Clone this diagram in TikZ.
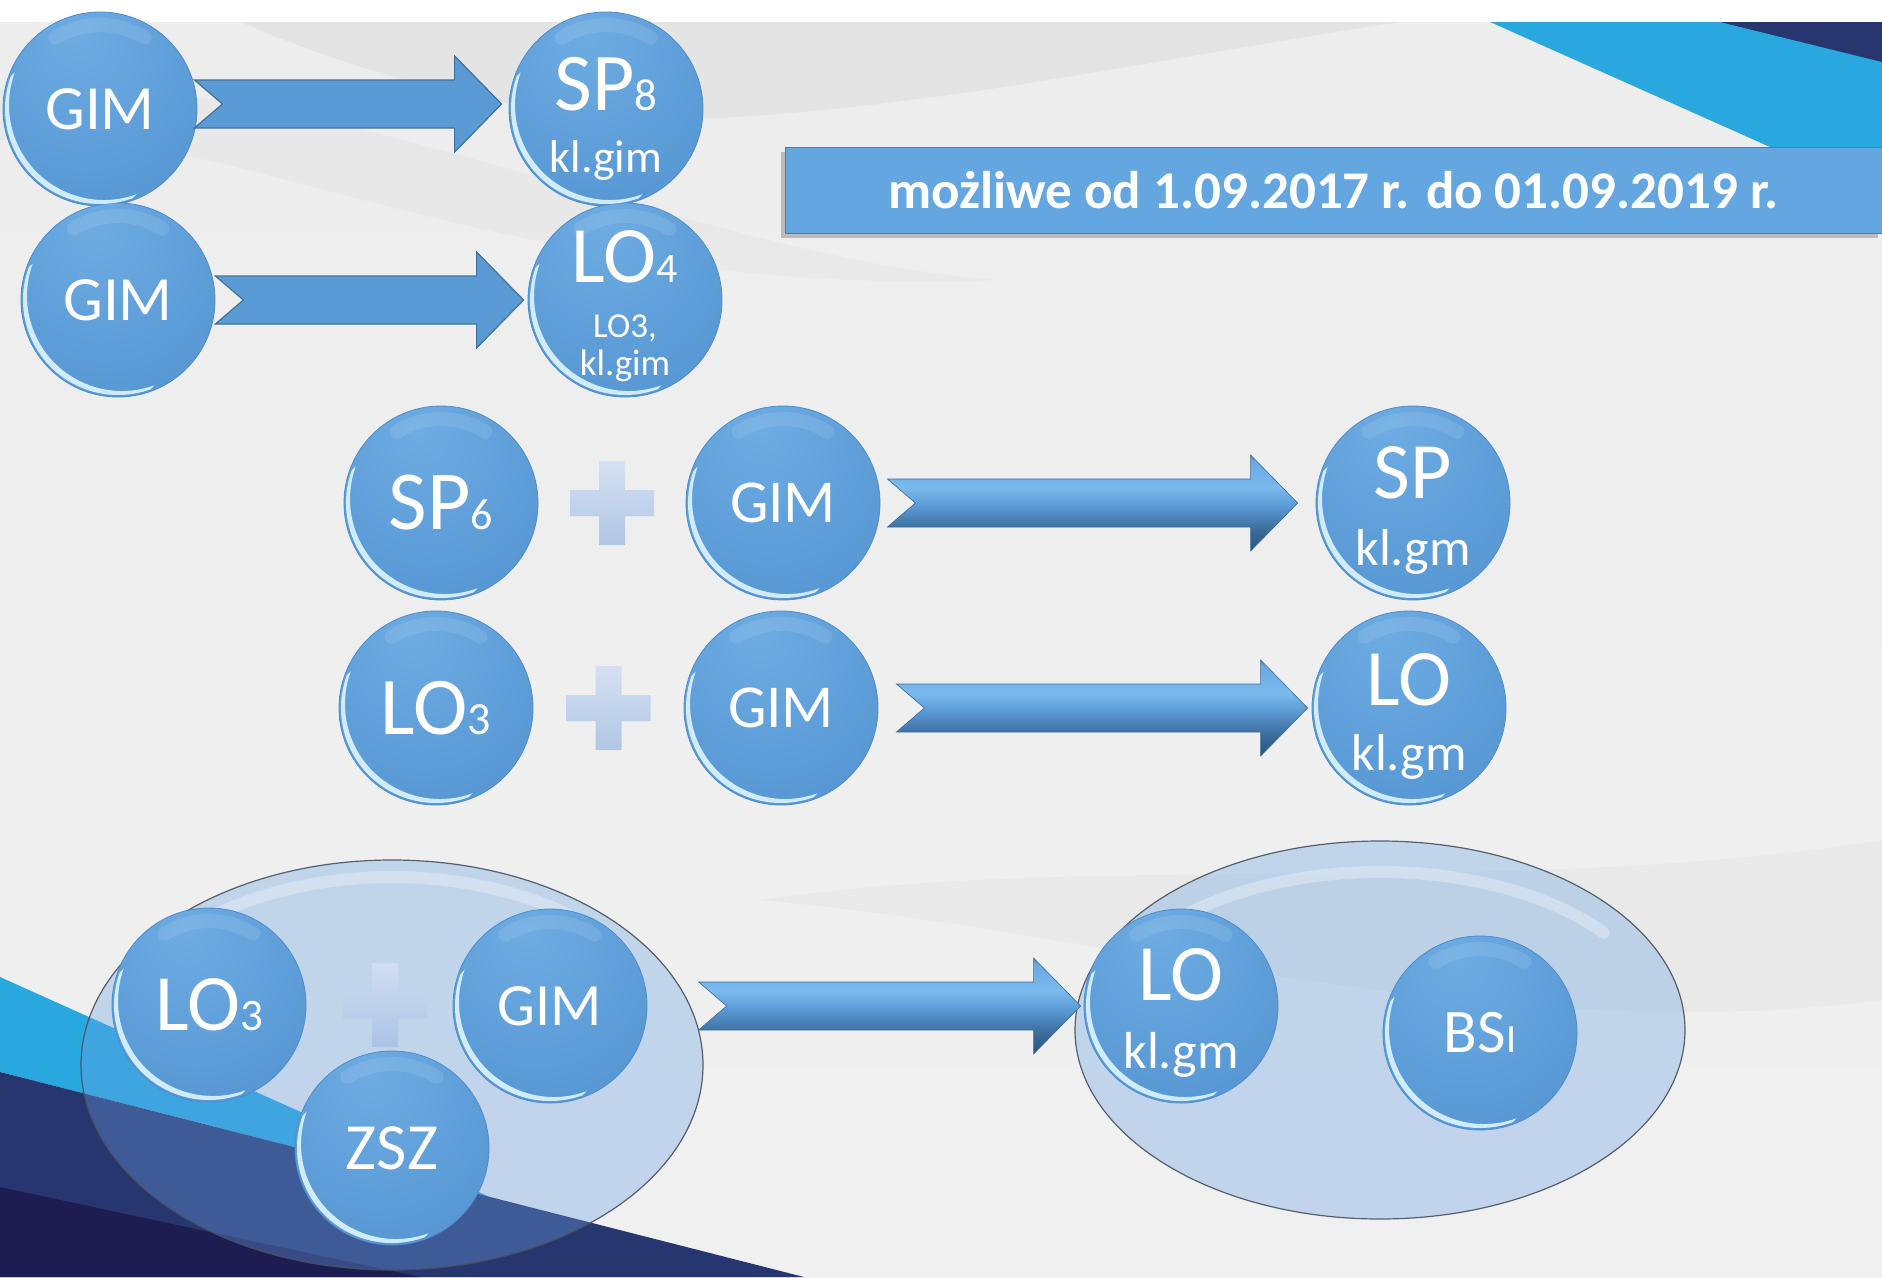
\documentclass[tikz,border=0pt]{standalone}
\usepackage{fontspec}
\setmainfont{Carlito}
\usetikzlibrary{calc, shadows, shapes.geometric, positioning}

\definecolor{bubLight}{HTML}{6EACE3}
\definecolor{bubMid}{HTML}{5B9BD6}
\definecolor{bubDark}{HTML}{4A89CA}
\definecolor{bubEdge}{HTML}{4F8CCB}
\definecolor{rimCol}{HTML}{DDF5FF}
\definecolor{arrFill}{HTML}{5B9BD5}
\definecolor{arrLine}{HTML}{41719C}
\definecolor{boxFill}{HTML}{64A6E0}
\definecolor{boxLine}{HTML}{5479A0}
\definecolor{skyBand}{HTML}{29A8E0}
\definecolor{navyBand}{HTML}{283670}
\definecolor{navyDeep}{HTML}{1E1D52}
\definecolor{plusLight}{HTML}{D3E0F3}
\definecolor{plusDark}{HTML}{A9C2E5}
\definecolor{grpFill}{HTML}{6AA2E2}
\definecolor{grpLine}{HTML}{47525E}
\definecolor{bgTop}{HTML}{EDEDED}
\definecolor{bgMid}{HTML}{F7F7F7}
\definecolor{bgBot}{HTML}{F0F0F0}
\definecolor{bevLow}{HTML}{3A6A98}
\definecolor{bevDark}{HTML}{2A547E}
\definecolor{bevDarkB}{HTML}{3B6C9D}
\definecolor{bevMid}{HTML}{5A99D4}
\definecolor{bevLight}{HTML}{7ABAEE}
\definecolor{bevLightB}{HTML}{6AA9E2}
\definecolor{bevTop}{HTML}{4B7FB3}
\definecolor{bevHead}{HTML}{66A3DB}
\definecolor{bevEdge}{HTML}{3C6A96}

\pgfdeclareradialshading{bubble}{\pgfpoint{-6bp}{20bp}}{color(0bp)=(bubLight); color(30bp)=(bubMid); color(60bp)=(bubDark); color(80bp)=(bubDark)}
\pgfdeclareverticalshading{bevel}{100bp}{color(0bp)=(bevLow); color(25bp)=(bevDark); color(36bp)=(bevDarkB); color(48bp)=(bevMid); color(58bp)=(bevLight); color(72bp)=(bevLightB); color(75bp)=(bevTop); color(77bp)=(bevMid); color(100bp)=(bevHead)}

\newcommand{\sz}[1]{\fontsize{#1pt}{#1pt}\selectfont}

% notched block arrow between two coordinates on one level
\newcommand{\blockarrow}[3][]{%
  \path[#1] ($(#2)+(0,-24)$) -- ($(#3)+(-47,-24)$) -- ($(#3)+(-47,-48)$) -- (#3)
    -- ($(#3)+(-47,48)$) -- ($(#3)+(-47,24)$) -- ($(#2)+(0,24)$) -- ($(#2)+(28,0)$) -- cycle;}

\newcommand{\plusmark}[1]{%
  \path[plussign] ($(#1)+(-13,-42)$) -- ($(#1)+(13,-42)$) -- ($(#1)+(13,-13)$) -- ($(#1)+(42,-13)$)
    -- ($(#1)+(42,13)$) -- ($(#1)+(13,13)$) -- ($(#1)+(13,42)$) -- ($(#1)+(-13,42)$)
    -- ($(#1)+(-13,13)$) -- ($(#1)+(-42,13)$) -- ($(#1)+(-42,-13)$) -- ($(#1)+(-13,-13)$) -- cycle;}

% top sheen and bright crescent on the lower left of a ball
\newcommand{\glossy}[1]{%
  \draw[glow] ([shift={(58:84pt)}]#1.center) arc[start angle=58, end angle=122, radius=84pt];
  \coordinate (#1-in) at ([shift={(4pt,4pt)}]#1.center);
  \fill[rim] ([shift={(160:95pt)}]#1.center) arc[start angle=160, end angle=290, radius=95pt]
    -- ([shift={(290:95pt)}]#1-in) arc[start angle=290, end angle=160, radius=95pt] -- cycle;}

\tikzset{
  ball/.style = {circle, minimum size=194pt, inner sep=0pt, shading=bubble,
                 draw=bubEdge, line width=0.8pt, text=white},
  txt/.style = {anchor=base, inner sep=0pt, text=white},
  rim/.style = {fill=rimCol, opacity=0.9},
  glow/.style = {draw=white, line width=14pt, line cap=round, opacity=0.1},
  flatarrow/.style = {fill=arrFill, draw=arrLine, line width=1.2pt},
  bevelarrow/.style = {shade, shading=bevel, draw=bevEdge, line width=0.6pt},
  plussign/.style = {shade, top color=plusLight, bottom color=plusDark, opacity=0.9},
  group/.style = {ellipse, fill=grpFill, fill opacity=0.35, draw=grpLine,
                  draw opacity=0.9, line width=1.2pt},
  sheen/.style = {draw=white, line width=12pt, line cap=round, opacity=0.3},
  swoosh/.style = {fill=black, fill opacity=0.035},
  datebox/.style = {rectangle, fill=boxFill, draw=boxLine, line width=1pt,
                    minimum width=1097pt, minimum height=86pt, text=white,
                    font=\bfseries\sz{53},
                    drop shadow={shadow xshift=-4pt, shadow yshift=-5pt, opacity=0.45}}
}

\begin{document}
\begin{tikzpicture}[x=1pt, y=-1pt]
\useasboundingbox (0,0) rectangle (1882,1277);

% background
\fill[white] (0,0) rectangle (1882,1277);
\shade[top color=bgTop, middle color=bgMid, bottom color=bgBot] (0,22) rectangle (1882,1277);
\fill[swoosh] (240,22) .. controls (400,90) and (560,125) .. (720,118)
  .. controls (950,105) and (1150,60) .. (1400,22) -- cycle;
\fill[swoosh, fill opacity=0.02] (0,140) .. controls (200,110) and (500,300) .. (1000,280)
  .. controls (700,260) and (300,60) .. (0,90) -- cycle;
\fill[swoosh, fill opacity=0.025] (760,900) .. controls (1100,850) and (1500,900) .. (1882,840)
  -- (1882,1000) .. controls (1500,1050) and (1100,930) .. (760,900) -- cycle;
\fill[skyBand] (1490,22) -- (1882,22) -- (1882,197) -- cycle;
\fill[navyBand] (1720,22) -- (1882,22) -- (1882,62) -- cycle;
\fill[skyBand] (0,977) -- (490,1197) -- (0,1072) -- cycle;
\fill[navyBand] (0,1072) -- (804,1277) -- (0,1277) -- cycle;
\fill[navyDeep] (0,1187) -- (420,1277) -- (0,1277) -- cycle;

\node[datebox] (okres) at (1333.5,190) {możliwe od 1.09.2017 r. do 01.09.2019 r.};

% GIM -> SP8, GIM -> LO4
\node[ball, font=\sz{63}] (gimA) at (100,109) {GIM};
\node[ball] (sp8) at (606,109) {};
\node[txt, font=\sz{82}] (sp8-top) at ([yshift=-1pt]sp8.center) {SP{\sz{45}8}};
\node[txt, font=\sz{46}] (sp8-bot) at ([yshift=-63pt]sp8.center) {kl.gim};
\node[ball, font=\sz{63}] (gimB) at (118,300) {GIM};
\node[ball] (lo4) at (625,300) {};
\node[txt, font=\sz{80}] (lo4-top) at ([yshift=18pt]lo4.center) {LO{\sz{42}4}};
\node[txt, font=\sz{35}] (lo4-mid) at ([yshift=-37pt]lo4.center) {LO3,};
\node[txt, font=\sz{37}] (lo4-bot) at ([yshift=-75pt]lo4.center) {kl.gim};

\coordinate (arA-s) at ([xshift=-3pt, yshift=5pt]gimA.east);
\coordinate (arA-e) at ([xshift=-7pt, yshift=5pt]sp8.west);
\coordinate (arB-s) at (gimB.east);
\coordinate (arB-e) at ([xshift=-4pt]lo4.west);
\blockarrow[flatarrow]{arA-s}{arA-e}
\blockarrow[flatarrow]{arB-s}{arB-e}

% SP6 + GIM -> SP, LO3 + GIM -> LO
\node[ball, font=\sz{84}] (sp6) at (441,503) {SP{\sz{44}6}};
\node[ball, font=\sz{61}] (gimC) at (783,503) {GIM};
\node[ball] (spgm) at (1413,503) {};
\node[txt, font=\sz{80}] (spgm-top) at ([yshift=5pt]spgm.center) {SP};
\node[txt, font=\sz{52}] (spgm-bot) at ([yshift=-62pt]spgm.center) {kl.gm};
\node[ball, font=\sz{82}] (lo3) at (436,708) {LO{\sz{46}3}};
\node[ball, font=\sz{61}] (gimD) at (781,708) {GIM};
\node[ball] (logm) at (1409,708) {};
\node[txt, font=\sz{80}] (logm-top) at ([yshift=3pt]logm.center) {LO};
\node[txt, font=\sz{52}] (logm-bot) at ([yshift=-62pt]logm.center) {kl.gm};

\coordinate (plusA) at ($(sp6)!0.5!(gimC)$);
\coordinate (plusB) at ($(lo3)!0.5!(gimD)$);
\plusmark{plusA}
\plusmark{plusB}

\coordinate (arC-s) at ([xshift=7pt]gimC.east);
\coordinate (arC-e) at ([xshift=-18pt]spgm.west);
\coordinate (arD-s) at ([xshift=18pt]gimD.east);
\coordinate (arD-e) at ([xshift=-4pt]logm.west);
\blockarrow[bevelarrow]{arC-s}{arC-e}
\blockarrow[bevelarrow]{arD-s}{arD-e}

% LO3 + GIM + ZSZ -> LO + BSI
\node[group, minimum width=622pt, minimum height=410pt] (grpL) at (392,1065) {};
\node[group, minimum width=610pt, minimum height=378pt] (grpR) at (1380,1030) {};
\draw[sheen] ([shift={(38:294pt and 188pt)}]grpL.center) arc[start angle=38, end angle=142, x radius=294pt, y radius=188pt];
\draw[sheen] ([shift={(38:284pt and 158pt)}]grpR.center) arc[start angle=38, end angle=142, x radius=284pt, y radius=158pt];

\node[ball, font=\sz{80}] (lo3b) at (209,1005) {LO{\sz{45}3}};
\node[ball, font=\sz{60}] (gimE) at (550,1006) {GIM};
\coordinate (plusC) at (385,1005);
\plusmark{plusC}
\node[ball, font=\sz{66}] (zsz) at (392,1148) {ZSZ};
\node[ball] (logmb) at (1181,1006) {};
\node[txt, font=\sz{80}] (logmb-top) at ([yshift=6pt]logmb.center) {LO};
\node[txt, font=\sz{52}] (logmb-bot) at ([yshift=-62pt]logmb.center) {kl.gm};
\node[ball, font=\sz{62}] (bsi) at (1480,1033) {BS{\sz{40}I}};

\coordinate (arE-0) at (grpL.east |- logmb.west);
\coordinate (arE-s) at ([xshift=-5pt]arE-0);
\coordinate (arE-e) at ([xshift=-3pt]logmb.west);
\blockarrow[bevelarrow]{arE-s}{arE-e}

\foreach \b in {gimA, sp8, gimB, lo4, sp6, gimC, spgm, lo3, gimD, logm, lo3b, gimE, zsz, logmb, bsi}
  {\glossy{\b}}
\end{tikzpicture}
\end{document}
